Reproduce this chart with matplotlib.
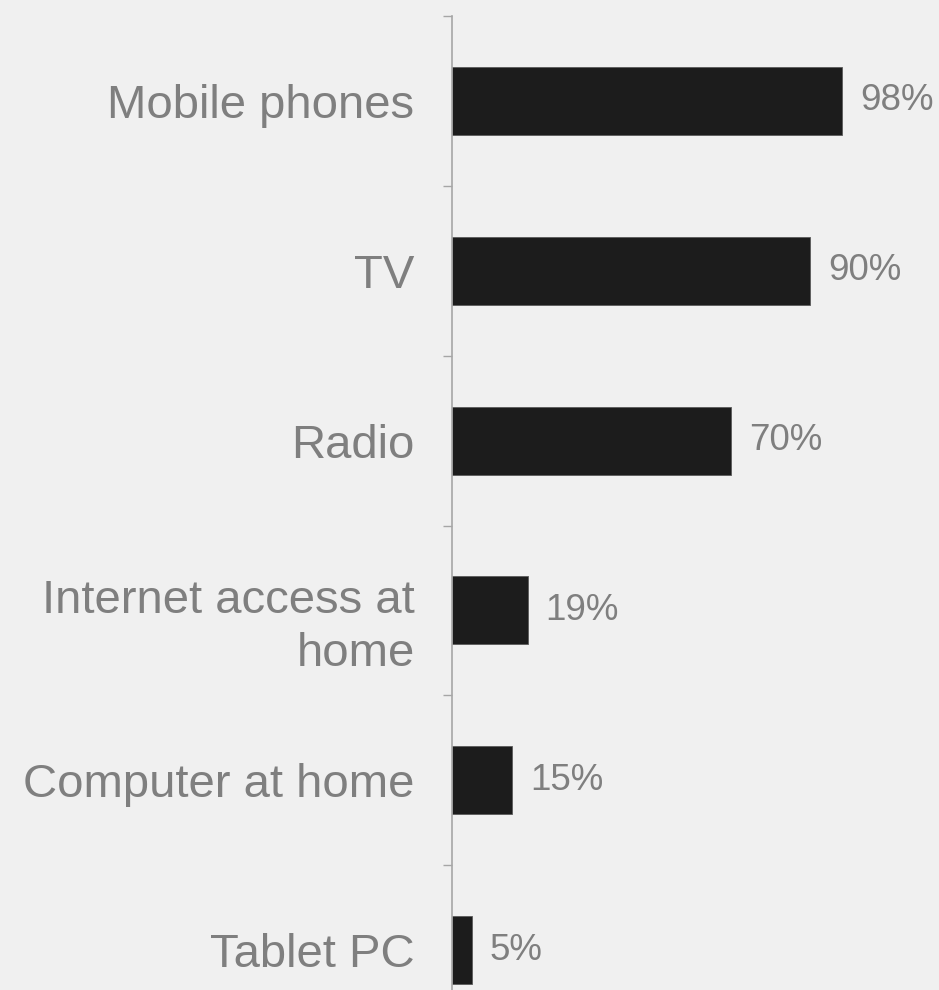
import matplotlib
matplotlib.use('Agg')
import matplotlib.transforms as mtransforms
from matplotlib import pyplot as plt

# Device ownership shares
categories = ['Mobile phones', 'TV', 'Radio', 'Internet access at\nhome', 'Computer at home', 'Tablet PC']
shares = [0.98, 0.90, 0.70, 0.19, 0.15, 0.05]
value_labels = ['98%', '90%', '70%', '19%', '15%', '5%']

plt.rcParams['font.family'] = ['Liberation Sans', 'DejaVu Sans']

bg = '#f0f0f0'
axis_grey = '#a6a6a6'
text_grey = '#7f7f7f'

W, H = 939, 990
fig = plt.figure(figsize=(W/100, H/100), dpi=100, facecolor=bg)

# axis spans from y=16 px down past the bottom edge (cropped in the reference)
left_px, top_px, bottom_px = 452, 16, 1035
ax = fig.add_axes([left_px/W, 1 - bottom_px/H, (W - left_px)/W, (bottom_px - top_px)/H])
ax.set_facecolor(bg)

ypos = list(range(len(categories)))
ax.barh(ypos, shares, height=0.4, color='#1c1c1c', edgecolor='#5a5a5a', linewidth=0.6)

for y, v, lab in zip(ypos, shares, value_labels):
    ax.annotate(lab, xy=(v, y), xytext=(13, 0), textcoords='offset points',
                va='center', ha='left', fontsize=26.5, color=text_grey)

ax.set_ylim(len(categories) - 0.5, -0.5)
ax.set_xlim(0, (W - left_px)/398)

# ticks sit between categories
ax.set_yticks([i - 0.5 for i in range(len(categories) + 1)])
ax.set_yticklabels([])
ax.set_yticks(ypos, minor=True)
ax.set_yticklabels(categories, minor=True, fontsize=34, color=text_grey, ha='right')
ax.tick_params(axis='y', which='major', length=6.5, width=1, color=axis_grey, direction='out')
ax.tick_params(axis='y', which='minor', length=0, pad=27)
ax.set_xticks([])

# the two-line label sits a bit lower in the original
for t in ax.get_yticklabels(minor=True):
    if '\n' in t.get_text():
        t.set_linespacing(1.25)
        t.set_transform(t.get_transform() + mtransforms.ScaledTranslation(0, -0.08, fig.dpi_scale_trans))

for s in ['top', 'right', 'bottom']:
    ax.spines[s].set_visible(False)
ax.spines['left'].set_color(axis_grey)
ax.spines['left'].set_linewidth(1.2)

plt.savefig('out.png', dpi=100, facecolor=bg)
